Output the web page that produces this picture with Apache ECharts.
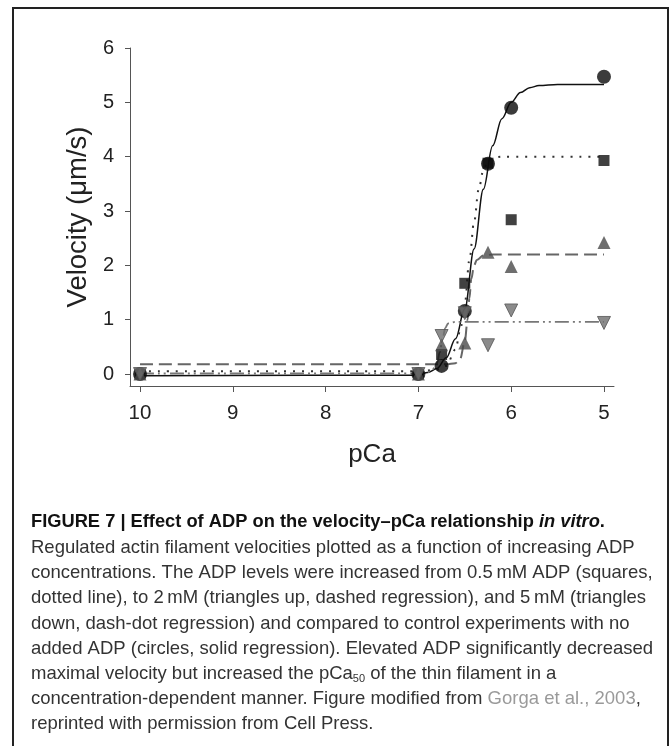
<!DOCTYPE html>
<html>
<head>
<meta charset="utf-8">
<script src="https://cdn.jsdelivr.net/npm/echarts@6/dist/echarts.min.js"></script>
<style>
  html, body { margin: 0; padding: 0; background: #fff; }
  #chart { width: 671px; height: 746px; }
</style>
</head>
<body>
<div id="chart"></div>
<script>
// measured points (pCa, velocity um/s)
const pCaLevels = [10, 7, 6.75, 6.5, 6.25, 6, 5];
const control = [0, 0, 0.15, 1.16, 3.87, 4.9, 5.47];     // circles
const adp05 = [0, 0, 0.36, 1.67, 3.88, 2.84, 3.93];      // squares
const adp2 = [0, 0, 0.54, 0.57, 2.24, 1.98, 2.42];       // triangles up
const adp5 = [0, 0, 0.70, 1.12, 0.53, 1.17, 0.94];       // triangles down

// regression curves
const solidX = [10, 7.0, 6.9, 6.8, 6.7, 6.6, 6.5, 6.4, 6.3, 6.2, 6.1, 6.0, 5.9, 5.8, 5.7, 5.5, 5.0];
const solidY = [-0.03, -0.02, 0.03, 0.1, 0.3, 0.65, 1.2, 2.3, 3.4, 4.2, 4.7, 5.0, 5.18, 5.27, 5.31, 5.33, 5.33];
const dottedX = [10, 7.0, 6.8, 6.7, 6.6, 6.55, 6.5, 6.45, 6.4, 6.35, 6.3, 6.25, 6.2, 6.1, 5.0];
const dottedY = [0.05, 0.05, 0.08, 0.15, 0.45, 0.8, 1.3, 2.1, 2.8, 3.4, 3.75, 3.92, 3.98, 4.0, 4.0];
const dashedX = [10, 7.0, 6.7, 6.6, 6.55, 6.5, 6.47, 6.45, 6.43, 6.4, 6.37, 6.3, 6.2, 5.0];
const dashedY = [0.18, 0.18, 0.18, 0.2, 0.28, 0.6, 1.0, 1.4, 1.75, 2.0, 2.1, 2.18, 2.2, 2.2];
const dashDotX = [10, 7.0, 6.9, 6.85, 6.8, 6.77, 6.74, 6.71, 6.68, 6.6, 5.0];
const dashDotY = [0.01, 0.01, 0.03, 0.08, 0.2, 0.4, 0.65, 0.85, 0.93, 0.96, 0.96];

const xTicks = [5, 6, 7, 8, 9, 10];
const yTicks = [0, 1, 2, 3, 4, 5, 6];

const captionLines = [
  "Regulated actin filament velocities plotted as a function of increasing ADP",
  "concentrations. The ADP levels were increased from 0.5\u2009mM ADP (squares,",
  "dotted line), to 2\u2009mM (triangles up, dashed regression), and 5\u2009mM (triangles",
  "down, dash-dot regression) and compared to control experiments with no",
  "added ADP (circles, solid regression). Elevated ADP significantly decreased",
  "{t|maximal velocity but increased the pCa}{sub|50}{t| of the thin filament in a}",
  "{t|concentration-dependent manner. Figure modified from }{link|Gorga et al., 2003}{t|,}",
  "reprinted with permission from Cell Press."
];

const font = "'Liberation Sans', Arial, sans-serif";

function pairs(xs, ys) {
  return xs.map((x, i) => [x, ys[i]]);
}

const chart = echarts.init(document.getElementById('chart'));

const graphics = [
  {
    type: 'rect',
    shape: { x: 13, y: 8, width: 655, height: 760 },
    style: { fill: 'none', stroke: '#222', lineWidth: 2 },
    silent: true
  },
  {
    type: 'text',
    x: 31, y: 522,
    style: {
      text: '{b|FIGURE 7 | Effect of ADP on the velocity\u2013pCa relationship }{bi|in vitro}{b|.}',
      verticalAlign: 'middle',
      rich: {
        b: { fontFamily: font, fontSize: 18.3, fontWeight: 'bold', fill: '#111' },
        bi: { fontFamily: font, fontSize: 18.3, fontWeight: 'bold', fontStyle: 'italic', fill: '#111' }
      }
    }
  }
];

captionLines.forEach((line, i) => {
  graphics.push({
    type: 'text',
    x: 31, y: 548 + i * 25.2,
    style: {
      text: line.indexOf('{') === 0 ? line : '{t|' + line + '}',
      verticalAlign: 'middle',
      rich: {
        t: { fontFamily: font, fontSize: 18.5, fill: '#333' },
        sub: { fontFamily: font, fontSize: 11, fill: '#333', padding: [9, 0, 0, 0] },
        link: { fontFamily: font, fontSize: 18.5, fill: '#9a9a9a' }
      }
    }
  });
});

const option = {
  animation: false,
  grid: { left: 130, right: 57, top: 48, bottom: 360 },
  xAxis: {
    type: 'value',
    inverse: true,
    min: 4.892,
    max: 10.108,
    name: 'pCa',
    nameLocation: 'middle',
    nameGap: 56,
    nameTextStyle: { fontFamily: font, fontSize: 26, color: '#222' },
    axisLine: { onZero: false, lineStyle: { color: '#555', width: 1 } },
    axisTick: { show: true, length: 6, customValues: xTicks, lineStyle: { color: '#555' } },
    axisLabel: { customValues: xTicks, margin: 17, fontFamily: font, fontSize: 20.5, color: '#222' },
    splitLine: { show: false }
  },
  yAxis: {
    type: 'value',
    min: -0.22,
    max: 6,
    name: 'Velocity (\u03bcm/s)',
    nameLocation: 'middle',
    nameGap: 38,
    nameTextStyle: { fontFamily: font, fontSize: 27.5, color: '#222' },
    axisLine: { show: true, onZero: false, lineStyle: { color: '#555', width: 1 } },
    axisTick: { show: true, length: 5, customValues: yTicks, lineStyle: { color: '#555' } },
    axisLabel: { customValues: yTicks, margin: 16, fontFamily: font, fontSize: 20, color: '#222' },
    splitLine: { show: false }
  },
  graphic: graphics,
  series: [
    {
      type: 'line', data: pairs(solidX, solidY), showSymbol: false,
      smooth: 0.35, smoothMonotone: 'x',
      lineStyle: { color: '#111', width: 1.5 }, z: 2
    },
    {
      type: 'line', data: pairs(dottedX, dottedY), showSymbol: false,
      smooth: 0.35, smoothMonotone: 'x',
      lineStyle: { color: '#333', width: 2, type: [2, 7] }, z: 2
    },
    {
      type: 'line', data: pairs(dashedX, dashedY), showSymbol: false,
      smooth: 0.35, smoothMonotone: 'x',
      lineStyle: { color: '#666', width: 2, type: [13, 6] }, z: 2
    },
    {
      type: 'line', data: pairs(dashDotX, dashDotY), showSymbol: false,
      smooth: 0.35, smoothMonotone: 'x',
      lineStyle: { color: '#777', width: 1.8, type: [14, 4, 2, 4, 2, 4] }, z: 2
    },
    {
      type: 'scatter', data: pairs(pCaLevels, adp05), symbol: 'rect', symbolSize: 11,
      itemStyle: { color: '#111' }, z: 3
    },
    {
      type: 'scatter', data: pairs(pCaLevels, control), symbol: 'circle', symbolSize: 14,
      itemStyle: { color: '#0a0a0a' }, z: 4
    },
    {
      type: 'scatter', data: pairs(pCaLevels, adp2), symbol: 'triangle', symbolSize: 13,
      itemStyle: { color: '#4a4a4a' }, z: 5
    },
    {
      type: 'scatter', data: pairs(pCaLevels, adp5), symbol: 'triangle', symbolSize: 13,
      symbolRotate: 180,
      itemStyle: { color: '#6e6e6e', borderColor: '#555', borderWidth: 1 }, z: 6
    }
  ]
};

chart.setOption(option);
</script>
</body>
</html>
